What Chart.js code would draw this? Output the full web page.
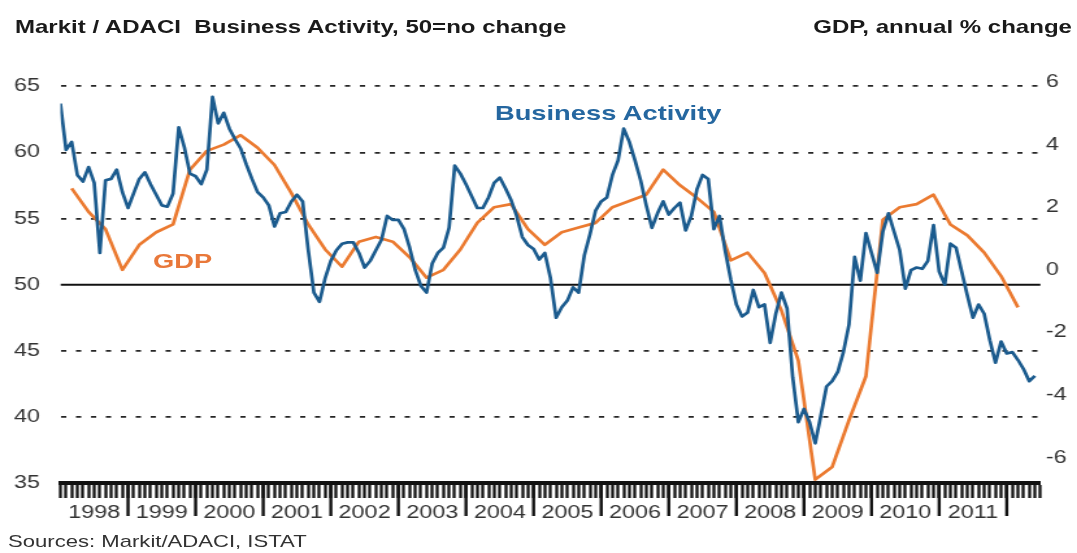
<!DOCTYPE html>
<html>
<head>
<meta charset="utf-8">
<title>Markit / ADACI Business Activity and GDP</title>
<script src="https://cdn.jsdelivr.net/npm/chart.js@4/dist/chart.umd.min.js"></script>
<style>
  html, body { margin: 0; padding: 0; background: #fff; overflow: hidden; }
  #stage {
    position: absolute; left: 0; top: 0; width: 829px; height: 553px;
    transform: scaleX(1.2992); transform-origin: 0 0;
    font-family: 'Liberation Sans', Arial, sans-serif;
  }
  #stage canvas { position: absolute; left: 0; top: 0; }
  .txt { position: absolute; white-space: nowrap; line-height: 1; }
  .head { font-weight: bold; font-size: 18.5px; color: #1a1a1a; top: 18px; }
  .series { font-weight: bold; font-size: 21px; }
</style>
</head>
<body>
<div id="stage">
  <canvas id="chart" width="829" height="553"></canvas>
  <div class="txt head" style="left:11.5px;">Markit / ADACI&nbsp; Business Activity, 50=no change</div>
  <div class="txt head" style="right:3.9px;">GDP, annual % change</div>
  <div class="txt series" style="left:381px; top:101.5px; color:#2567a0;">Business Activity</div>
  <div class="txt series" style="left:117.8px; top:249.5px; color:#e9783a;">GDP</div>
  <div class="txt" style="left:6.2px; top:532.5px; font-size:17px; color:#333;">Sources: Markit/ADACI, ISTAT</div>
</div>
<script>
// Year labels along the bottom axis (one per calendar year of monthly data)
const years = ['1998', '1999', '2000', '2001', '2002', '2003', '2004',
               '2005', '2006', '2007', '2008', '2009', '2010', '2011'];

// Business Activity index, monthly from Jan 1998 to Jun 2012 (50 = no change)
const businessActivity = [
  63.7, 60.2, 60.8, 58.3, 57.8, 58.9, 57.7, 52.4, 57.9, 58.0, 58.7, 57.0,
  55.8, 56.9, 58.0, 58.5, 57.6, 56.8, 56.0, 55.9, 56.9, 61.9, 60.4, 58.4,
  58.2, 57.6, 58.7, 64.2, 62.2, 63.0, 61.8, 61.0, 60.3, 59.1, 58.0, 57.0,
  56.6, 56.0, 54.4, 55.4, 55.5, 56.3, 56.8, 56.3, 52.6, 49.4, 48.7, 50.5,
  51.8, 52.6, 53.1, 53.2, 53.2, 52.4, 51.3, 51.8, 52.6, 53.4, 55.2, 54.9,
  54.9, 54.2, 52.8, 51.1, 49.9, 49.4, 51.6, 52.4, 52.8, 54.3, 59.0, 58.4,
  57.6, 56.7, 55.8, 55.8, 56.6, 57.7, 58.1, 57.3, 56.4, 55.2, 53.6, 53.0,
  52.7, 51.9, 52.4, 50.5, 47.5, 48.3, 48.8, 49.8, 49.4, 52.2, 53.8, 55.6,
  56.3, 56.6, 58.3, 59.4, 61.8, 60.8, 59.4, 57.9, 56.0, 54.3, 55.4, 56.3,
  55.3, 55.8, 56.2, 54.1, 55.2, 57.2, 58.3, 58.0, 54.2, 55.2, 52.6, 50.4,
  48.5, 47.6, 47.9, 49.6, 48.3, 48.5, 45.6, 47.8, 49.4, 48.2, 43.0, 39.6,
  40.6, 39.6, 38.0, 40.1, 42.3, 42.7, 43.4, 44.9, 47.0, 52.1, 50.3, 53.9,
  52.4, 50.9, 54.0, 55.4, 54.0, 52.6, 49.7, 51.1, 51.3, 51.2, 51.8, 54.5,
  51.0, 50.0, 53.1, 52.8, 51.0, 49.2, 47.5, 48.5, 47.8, 45.8, 44.1, 45.7,
  44.8, 44.9, 44.3, 43.6, 42.7, 43.1
];

// GDP, annual % change, quarterly from 1998 Q1 to 2012 Q1
const gdpGrowth = [
   2.6,  1.85,  1.3,  0.0,
   0.8,  1.2,   1.45, 3.2,
   3.8,  4.0,   4.3,  3.9,
   3.35, 2.45,  1.45, 0.65,
   0.1,  0.9,   1.05, 0.9,
   0.4, -0.25,  0.0,  0.65,
   1.5,  2.0,   2.1,  1.3,
   0.8,  1.2,   1.35, 1.5,
   2.0,  2.2,   2.4,  3.2,
   2.7,  2.3,   1.85, 0.3,
   0.55, -0.1, -1.3, -2.9,
  -6.7, -6.3,  -4.8, -3.4,
   1.6,  2.0,   2.1,  2.4,
   1.45, 1.1,   0.55, -0.2,
  -1.2
];

// Left-axis reference level: 50 = no change
const noChangeLevel = 50;

const MONTHS = 12;
const axisEnd = businessActivity.length;          // months shown on the time axis
const FONT = "'Liberation Sans', Arial, sans-serif";
Chart.defaults.font.family = FONT;

const baPoints = businessActivity.map((v, i) => ({ x: i, y: v }));
// each quarter is placed at its last month
const gdpPoints = gdpGrowth.map((v, q) => ({ x: q * 3 + 2, y: v }));
const levelPoints = [{ x: 0, y: noChangeLevel }, { x: axisEnd, y: noChangeLevel }];

// long year-boundary ticks under the monthly tick bar
const yearTicks = {
  id: 'yearTicks',
  afterDraw(chart) {
    const xs = chart.scales.x;
    const ctx = chart.ctx;
    ctx.save();
    ctx.strokeStyle = '#111';
    ctx.lineWidth = 2.4;
    for (let k = 1; k <= years.length; k++) {
      const px = xs.getPixelForValue(k * MONTHS);
      ctx.beginPath();
      ctx.moveTo(px, xs.top);
      ctx.lineTo(px, xs.top + 33);
      ctx.stroke();
    }
    ctx.restore();
  }
};

new Chart(document.getElementById('chart'), {
  type: 'line',
  data: {
    datasets: [
      {
        label: 'Business Activity',
        data: baPoints,
        yAxisID: 'y',
        borderColor: '#1b5b8e',
        borderWidth: 2.7,
        pointRadius: 0,
        tension: 0,
        borderJoinStyle: 'round'
      },
      {
        label: 'GDP',
        data: gdpPoints,
        yAxisID: 'y1',
        borderColor: '#eb7a30',
        borderWidth: 2.7,
        pointRadius: 0,
        tension: 0,
        borderJoinStyle: 'round'
      },
      {
        label: '50 = no change',
        data: levelPoints,
        yAxisID: 'y',
        borderColor: '#111',
        borderWidth: 2,
        pointRadius: 0
      }
    ]
  },
  options: {
    responsive: false,
    maintainAspectRatio: false,
    devicePixelRatio: 1,
    animation: false,
    layout: { padding: { top: 82, bottom: 0, left: 0, right: 0 } },
    plugins: { legend: { display: false }, tooltip: { enabled: false } },
    scales: {
      x: {
        type: 'linear',
        min: 0,
        max: axisEnd,
        afterFit: s => { s.height = 70; },
        grid: { drawOnChartArea: false, drawTicks: true, tickLength: 15, tickWidth: 2.3, tickColor: '#141414' },
        border: { display: true, color: '#111', width: 4 },
        ticks: {
          stepSize: 1,
          autoSkip: false,
          maxRotation: 0,
          minRotation: 0,
          padding: 4,
          color: '#333',
          font: { size: 18 },
          callback: v => (v % MONTHS === MONTHS / 2 ? (years[(v - MONTHS / 2) / MONTHS] || '') : '')
        }
      },
      y: {
        position: 'left',
        min: 35,
        max: 65.33,
        afterFit: s => { s.width = 46.5; },
        grid: {
          drawTicks: false,
          lineWidth: 1.8,
          color: c => (c.tick && (c.tick.value === noChangeLevel || c.tick.value === 35)) ? 'rgba(0,0,0,0)' : '#262626'
        },
        border: { display: false, dash: [4, 7.5] },
        ticks: { stepSize: 5, includeBounds: false, padding: 15.7, color: '#333', font: { size: 18 } }
      },
      y1: {
        position: 'right',
        min: -6.81,
        max: 6,
        afterFit: s => { s.width = 28.1; },
        grid: { drawOnChartArea: false, drawTicks: false },
        border: { display: false },
        ticks: { stepSize: 2, includeBounds: false, padding: 4, color: '#333', font: { size: 18 } }
      }
    }
  },
  plugins: [yearTicks]
});
</script>
</body>
</html>
